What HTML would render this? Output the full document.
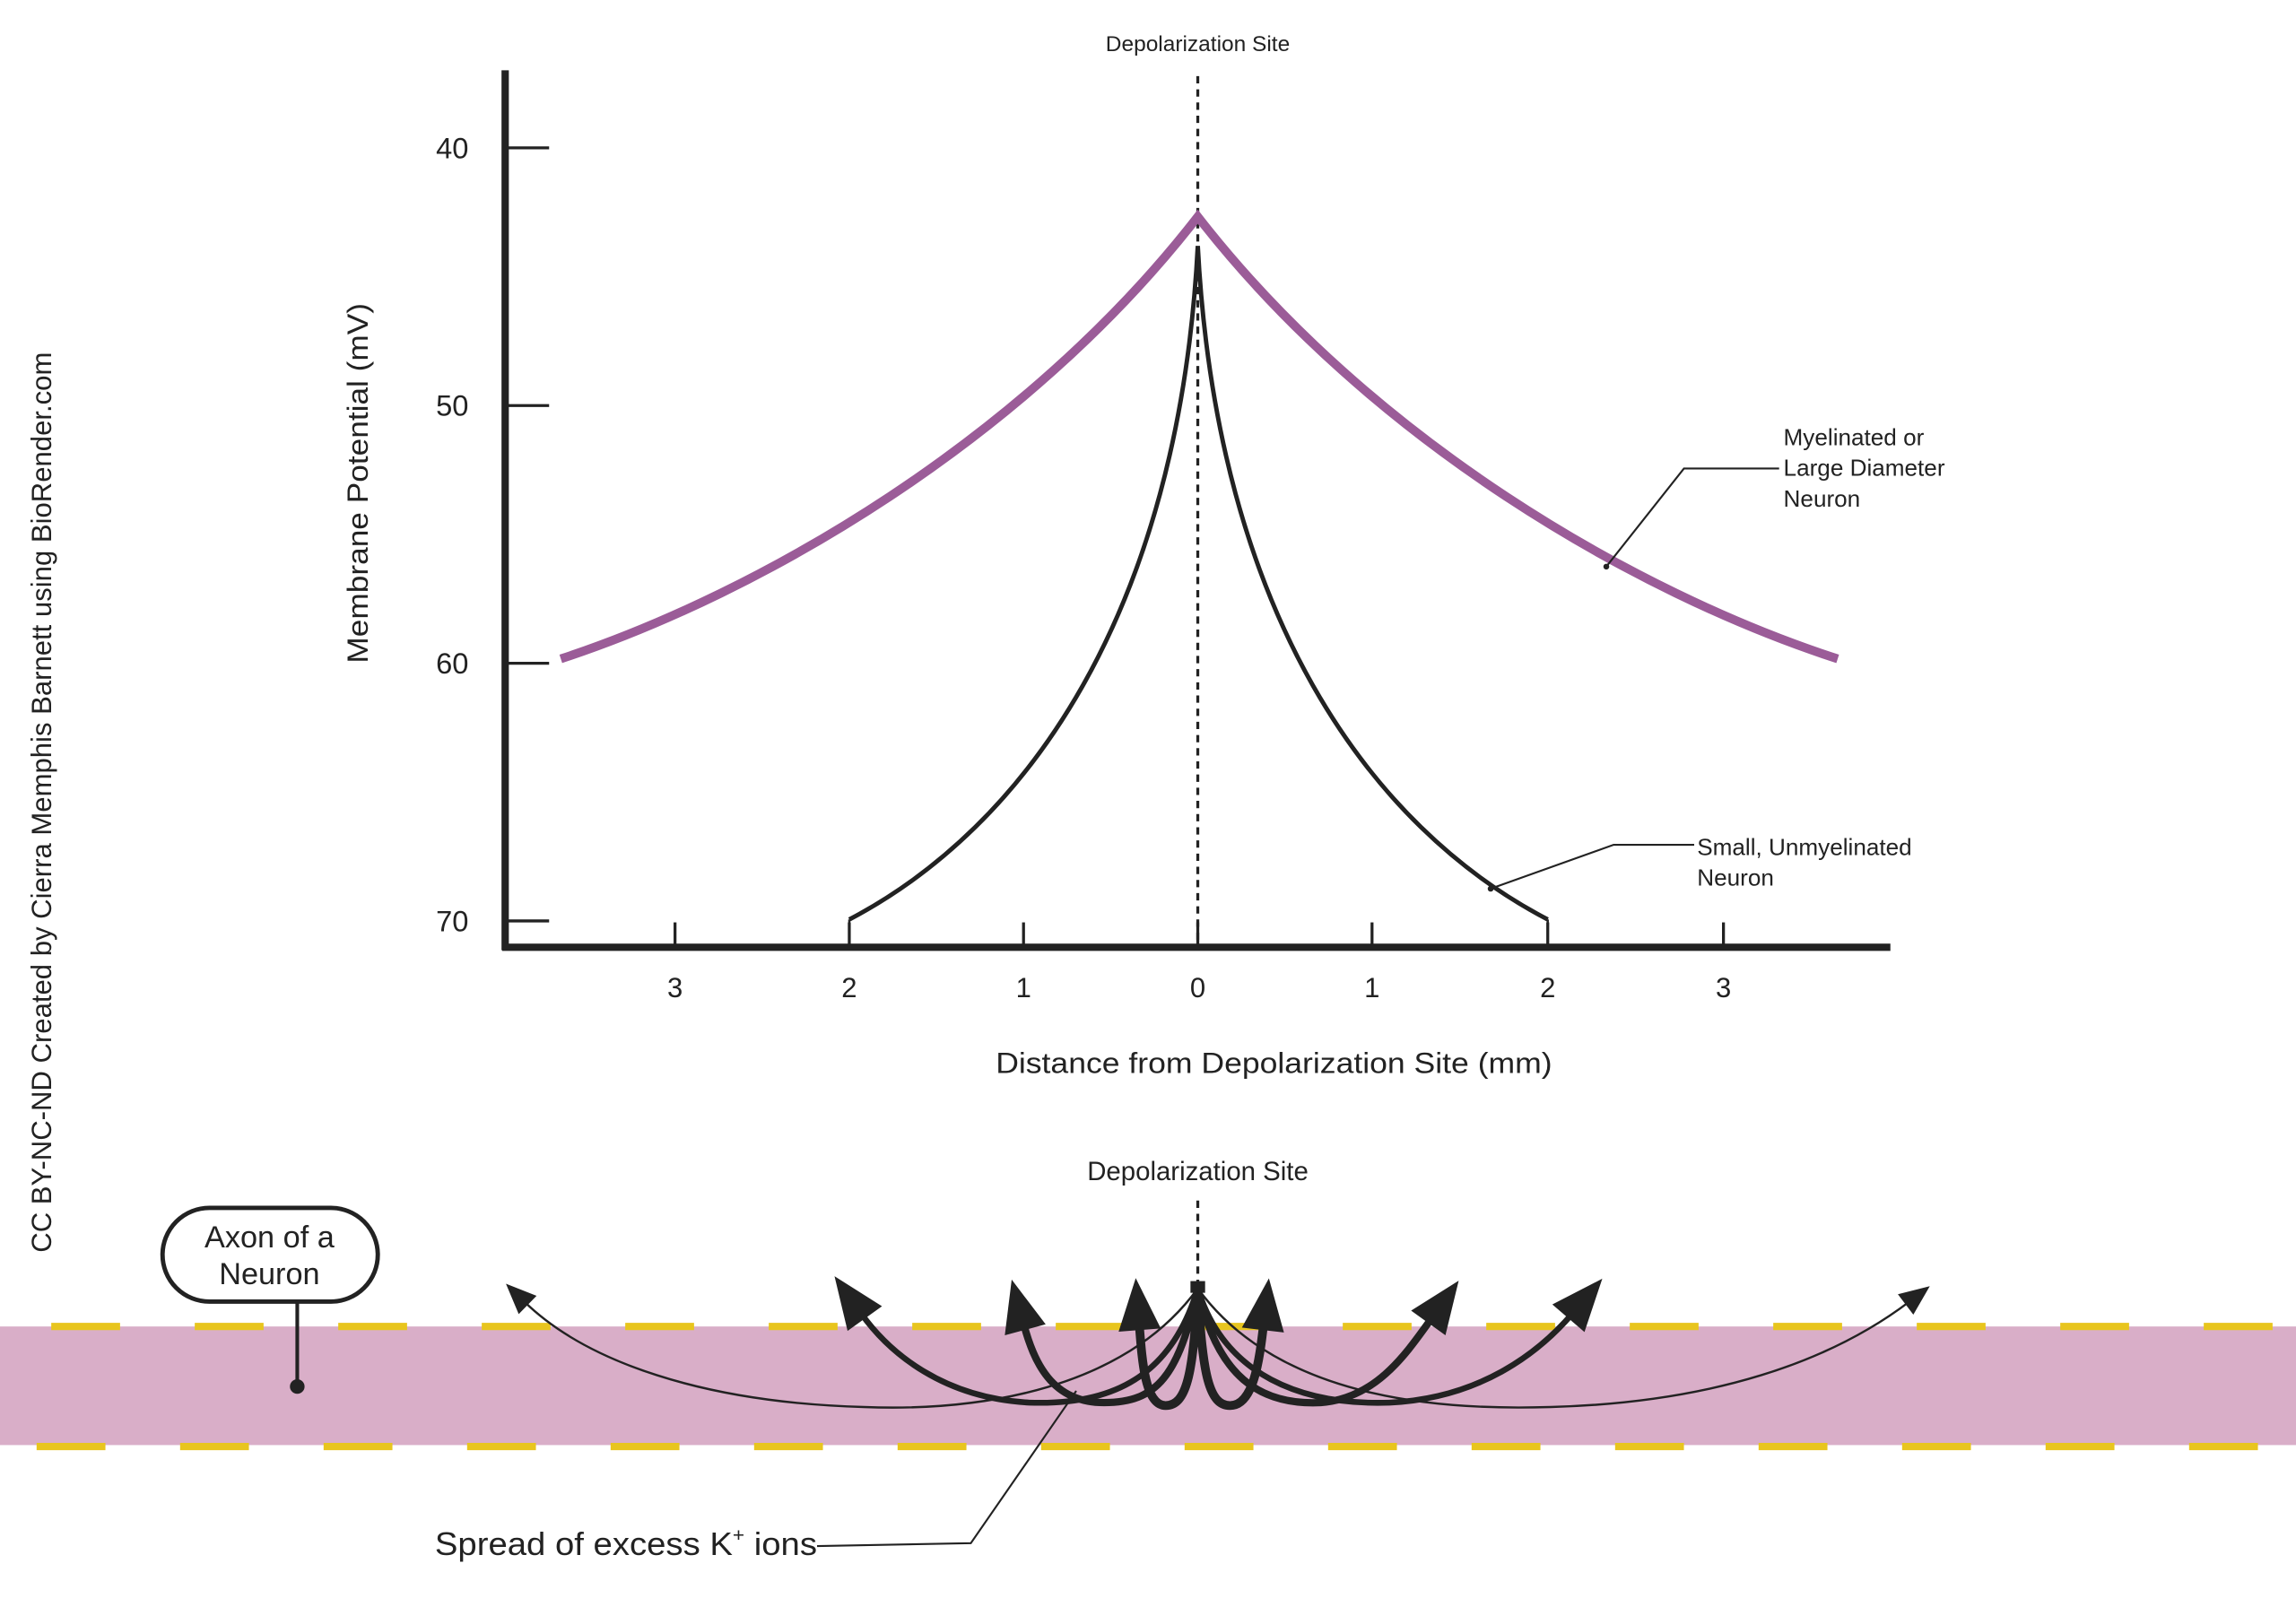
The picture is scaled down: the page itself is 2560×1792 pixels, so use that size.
<!DOCTYPE html>
<html><head><meta charset="utf-8"><style>
html,body{margin:0;padding:0;background:#fff;}
svg{display:block;}
text{font-family:"Liberation Sans",sans-serif;fill:#222;}
</style></head><body>
<svg width="2560" height="1792" viewBox="0 0 1568 1097.6" xmlns="http://www.w3.org/2000/svg">
<defs>
<marker id="hb" markerUnits="userSpaceOnUse" markerWidth="40" markerHeight="40" viewBox="-2 -16 36 32" refX="4" refY="0" orient="auto"><path d="M0,-13 L32,0 L0,13 Z" fill="#222"/></marker>
<marker id="hs" markerUnits="userSpaceOnUse" markerWidth="24" markerHeight="24" viewBox="-2 -10 22 20" refX="3" refY="0" orient="auto"><path d="M0,-8 L19,0 L0,8 Z" fill="#222"/></marker>
</defs>
<rect width="1568" height="1097.6" fill="#fff"/>
<text transform="translate(35,548) rotate(-90)" text-anchor="middle" font-size="19" textLength="615" lengthAdjust="spacingAndGlyphs">CC BY-NC-ND Created by Cierra Memphis Barnett using BioRender.com</text>
<line x1="345" y1="48" x2="345" y2="649" stroke="#222" stroke-width="5"/>
<line x1="343" y1="647" x2="1291" y2="647" stroke="#222" stroke-width="5"/>
<g stroke="#222" stroke-width="2">
<line x1="345" y1="101" x2="375" y2="101"/><line x1="345" y1="277" x2="375" y2="277"/>
<line x1="345" y1="453" x2="375" y2="453"/><line x1="345" y1="629" x2="375" y2="629"/>
<line x1="461" y1="630" x2="461" y2="647"/><line x1="580" y1="630" x2="580" y2="647"/>
<line x1="699" y1="630" x2="699" y2="647"/><line x1="818" y1="630" x2="818" y2="647"/>
<line x1="937" y1="630" x2="937" y2="647"/><line x1="1057" y1="630" x2="1057" y2="647"/>
<line x1="1177" y1="630" x2="1177" y2="647"/>
</g>
<g font-size="20" text-anchor="end">
<text x="320" y="108">40</text><text x="320" y="284">50</text><text x="320" y="460">60</text><text x="320" y="636">70</text>
</g>
<g font-size="19" text-anchor="middle">
<text x="461" y="681">3</text><text x="580" y="681">2</text><text x="699" y="681">1</text><text x="818" y="681">0</text>
<text x="937" y="681">1</text><text x="1057" y="681">2</text><text x="1177" y="681">3</text>
</g>
<text transform="translate(251,330) rotate(-90)" text-anchor="middle" font-size="20" textLength="246" lengthAdjust="spacingAndGlyphs">Membrane Potential (mV)</text>
<text x="870" y="733" text-anchor="middle" font-size="20" textLength="380" lengthAdjust="spacingAndGlyphs">Distance from Depolarization Site (mm)</text>
<text x="818" y="35" text-anchor="middle" font-size="15">Depolarization Site</text>
<line x1="818" y1="52" x2="818" y2="645" stroke="#222" stroke-width="2" stroke-dasharray="5,4"/>
<path d="M383,450 C 520,405 700,300 818,148 C 936,300 1116,405 1255,450" fill="none" stroke="#9b5c98" stroke-width="6"/>
<path d="M580,628 C 700,565 805,420 818,168 C 831,420 936,565 1057,628" fill="none" stroke="#222" stroke-width="3"/>
<line x1="580" y1="628" x2="580" y2="640" stroke="#222" stroke-width="1.5"/>
<line x1="1057" y1="628" x2="1057" y2="640" stroke="#222" stroke-width="1.5"/>
<polyline points="1097,387 1150,320 1215,320" fill="none" stroke="#222" stroke-width="1.3"/>
<circle cx="1097" cy="387" r="2" fill="#222"/>
<g font-size="16"><text x="1218" y="304">Myelinated or</text><text x="1218" y="325">Large Diameter</text><text x="1218" y="346">Neuron</text></g>
<polyline points="1018,607 1102,577 1157,577" fill="none" stroke="#222" stroke-width="1.3"/>
<circle cx="1018" cy="607" r="2" fill="#222"/>
<g font-size="16"><text x="1159" y="584">Small, Unmyelinated</text><text x="1159" y="605">Neuron</text></g>
<rect x="0" y="906" width="1568" height="81" fill="#d9aec8"/>
<line x1="35" y1="906" x2="1568" y2="906" stroke="#e8c51e" stroke-width="5" stroke-dasharray="47,51"/>
<line x1="25" y1="988" x2="1568" y2="988" stroke="#e8c51e" stroke-width="5" stroke-dasharray="47,51"/>
<text x="818" y="806" text-anchor="middle" font-size="18">Depolarization Site</text>
<line x1="818" y1="820" x2="818" y2="878" stroke="#222" stroke-width="2" stroke-dasharray="5,4"/>
<g fill="none" stroke="#222">
<path d="M818,880 C 760,960 640,963 590,961 C 480,958 400,930 358,889" stroke-width="1.5" marker-end="url(#hs)"/>
<path d="M818,880 C 876,960 996,963 1059,961 C 1170,958 1250,930 1304,889" stroke-width="1.5" marker-end="url(#hs)"/>
<path d="M818,880 C 800,940 760,960 703,958 C 645,955 608,925 588,897" stroke-width="4" marker-end="url(#hb)"/>
<path d="M818,880 C 836,940 890,960 949,958 C 1010,955 1050,925 1074,897" stroke-width="4" marker-end="url(#hb)"/>
<path d="M818,880 C 805,940 790,958 754,958 C 718,958 706,930 699,904" stroke-width="5" marker-end="url(#hb)"/>
<path d="M818,880 C 831,940 860,960 902,958 C 940,955 960,925 978,900" stroke-width="5" marker-end="url(#hb)"/>
<path d="M818,880 C 815,940 810,960 796,960 C 782,960 780,930 778,904" stroke-width="6" marker-end="url(#hb)"/>
<path d="M818,880 C 821,940 826,960 840,960 C 856,960 860,930 863,904" stroke-width="6" marker-end="url(#hb)"/>
</g>
<rect x="813" y="875" width="10" height="8" fill="#222"/>
<rect x="111" y="825" width="147" height="64" rx="32" fill="#fff" stroke="#222" stroke-width="3"/>
<text x="184" y="852" text-anchor="middle" font-size="21">Axon of a</text>
<text x="184" y="877" text-anchor="middle" font-size="21">Neuron</text>
<line x1="203" y1="889" x2="203" y2="947" stroke="#222" stroke-width="2.5"/>
<circle cx="203" cy="947" r="5" fill="#222"/>
<polyline points="558,1056 663,1054 735,950" fill="none" stroke="#222" stroke-width="1.3"/>
<text x="297" y="1062" font-size="22" textLength="261" lengthAdjust="spacingAndGlyphs">Spread of excess K<tspan font-size="13" dy="-9">+</tspan><tspan dy="9"> ions</tspan></text>
</svg>
</body></html>
